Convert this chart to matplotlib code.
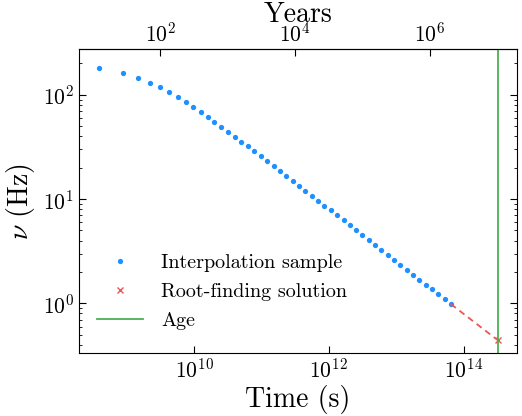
import numpy as np
import matplotlib
matplotlib.use("Agg")
import matplotlib.pyplot as plt
from matplotlib.ticker import NullLocator, LogLocator

plt.rcParams['font.family'] = 'serif'
plt.rcParams['font.serif'] = ['cmr10', 'DejaVu Serif']
plt.rcParams['mathtext.fontset'] = 'cm'
plt.rcParams['axes.formatter.use_mathtext'] = True

YEAR = 3.156e7  # s

# interpolation sample (time in s, frequency in Hz)
t_sample = [3.85e8, 8.65e8, 1.47e9, 2.22e9, 3.13e9, 4.25e9, 5.73e9, 7.45e9,
            9.67e9, 1.245e10, 1.58e10, 2.0e10, 2.52e10, 3.16e10, 3.98e10,
            4.99e10, 6.21e10, 7.78e10, 9.68e10, 1.213e11, 1.51e11, 1.87e11,
            2.32e11, 2.89e11, 3.59e11, 4.45e11, 5.53e11, 6.87e11, 8.51e11,
            1.064e12, 1.32e12, 1.65e12, 2.05e12, 2.52e12, 3.12e12, 3.88e12,
            4.82e12, 5.98e12, 7.45e12, 9.23e12, 1.145e13, 1.425e13, 1.77e13,
            2.19e13, 2.73e13, 3.38e13, 4.20e13, 5.22e13, 6.47e13]
nu_sample = [180, 162.5, 145.5, 130.3, 117.8, 105.4, 94.4, 84.6, 75.7, 68.2,
             61.1, 54.7, 49.0, 43.9, 39.6, 35.4, 32.0, 28.6, 25.7, 23.0, 20.6,
             18.5, 16.6, 14.9, 13.3, 12.0, 10.8, 9.64, 8.63, 7.79, 6.98, 6.25,
             5.60, 5.01, 4.52, 4.05, 3.62, 3.24, 2.92, 2.62, 2.34, 2.10, 1.88,
             1.68, 1.51, 1.36, 1.22, 1.09, 0.985]

# root-finding solution and age
t_root = 3.2e14
nu_root = 0.445
t_age = 3.2e14

fig = plt.figure(figsize=(5.22, 4.16), dpi=100)
ax = fig.add_axes([0.151, 0.151, 0.839, 0.731])

ax.plot(t_sample, nu_sample, 'o', color='#1e90ff', ms=3.8, mec='none',
        label='Interpolation sample')
ax.plot([t_sample[-1], t_root], [nu_sample[-1], nu_root], '--',
        color='#ee5555', lw=1.3, dashes=(3.5, 2.5))
ax.plot(t_root, nu_root, 'x', color='#ee5555', ms=5, mew=1.0,
        label='Root-finding solution')
ax.axvline(t_age, color='#4caf50', lw=1.3, label='Age')

ax.set_xscale('log')
ax.set_yscale('log')
ax.set_xlim(10**8.287, 10**14.79)
ax.set_ylim(0.333, 274)

ax.xaxis.set_major_locator(LogLocator(base=100))
ax.xaxis.set_minor_locator(NullLocator())
ax.yaxis.set_minor_locator(LogLocator(subs=np.arange(2, 10)))
ax.tick_params(which='both', direction='in', right=True, top=False,
               labelsize=15.5)
ax.tick_params(which='major', length=5)
ax.tick_params(which='minor', length=2.5)

ax.set_xlabel('Time (s)', fontsize=20, labelpad=2)
ax.set_ylabel(r'$\nu$ (Hz)', fontsize=20)

sec = ax.secondary_xaxis('top', functions=(lambda s: s / YEAR,
                                           lambda y: y * YEAR))
sec.xaxis.set_major_locator(LogLocator(base=100))
sec.xaxis.set_minor_locator(NullLocator())
sec.tick_params(direction='in', length=5, labelsize=15.5, pad=2.5)
sec.set_xlabel('Years', fontsize=20, labelpad=0)

ax.legend(loc='lower left', frameon=False, fontsize=14.5,
          bbox_to_anchor=(0.0, 0.015), handlelength=2.3,
          handletextpad=0.9, labelspacing=0.55)

fig.savefig('out.png', dpi=100)
